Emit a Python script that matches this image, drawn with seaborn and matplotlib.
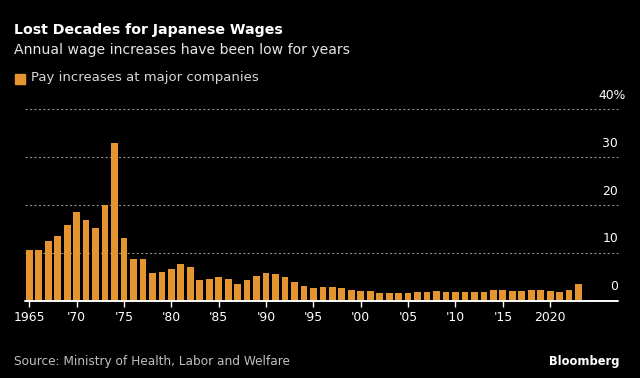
import matplotlib
matplotlib.use("Agg")
import matplotlib.pyplot as plt
import seaborn as sns
import pandas as pd

years = list(range(1965, 2024))
pay_increase = [10.6, 10.6, 12.5, 13.6, 15.8, 18.5, 16.9, 15.3, 20.1, 32.9,
                13.1, 8.8, 8.8, 5.9, 6.0, 6.7, 7.7, 7.0, 4.4, 4.5,
                5.0, 4.6, 3.6, 4.4, 5.2, 5.9, 5.7, 5.0, 3.9, 3.1,
                2.8, 2.9, 2.9, 2.7, 2.2, 2.1, 2.0, 1.7, 1.6, 1.7,
                1.7, 1.8, 1.9, 2.0, 1.8, 1.8, 1.8, 1.8, 1.8, 2.2,
                2.4, 2.1, 2.1, 2.3, 2.2, 2.0, 1.9, 2.2, 3.6]
tick_years = [1965, 1970, 1975, 1980, 1985, 1990, 1995, 2000, 2005, 2010, 2015, 2020]
tick_labels = ["1965", "'70", "'75", "'80", "'85", "'90", "'95", "'00", "'05", "'10", "'15", "2020"]
y_ticks = [0, 10, 20, 30, 40]
y_labels = ["0", "10", "20", "30", "40%"]

title = "Lost Decades for Japanese Wages"
subtitle = "Annual wage increases have been low for years"
legend_label = "Pay increases at major companies"
source = "Source: Ministry of Health, Labor and Welfare"

BAR = "#E5952F"
BG = "#000000"

sns.set_theme(style="dark")
plt.rcParams["font.family"] = ["DejaVu Sans"]

df = pd.DataFrame({"year": years, "value": pay_increase})

fig = plt.figure(figsize=(6.4, 3.78), dpi=100, facecolor=BG)
W, H = 640, 378
ax = fig.add_axes([25 / W, 1 - 301 / H, (618 - 25) / W, (301 - 109.5) / H])
ax.set_facecolor(BG)

sns.barplot(data=df, x="year", y="value", color=BAR, saturation=1,
            width=0.71, ax=ax, zorder=3, edgecolor="none", linewidth=0)

ax.set_xlim(-0.454, 62.16)
ax.set_ylim(0, 40)
for sp in ax.spines.values():
    sp.set_visible(False)
ax.grid(False)

for v in y_ticks[1:]:
    ax.axhline(v, color="#8a8a8a", lw=0.8, ls=(0, (2, 2)), zorder=1, clip_on=False)
ax.axhline(0, color="white", lw=1.4, zorder=4, clip_on=False)

pos = [years.index(y) for y in tick_years]
ax.set_xticks(pos)
ax.set_xticklabels(tick_labels, color="white", fontsize=8.9)
ax.tick_params(axis="x", bottom=True, colors="white", length=4, width=1,
               pad=3, direction="out")
ax.set_yticks([])
ax.set_xlabel("")
ax.set_ylabel("")

trans = ax.get_yaxis_transform()
for v, lab in zip(y_ticks, y_labels):
    xr = 1.0 if not lab.endswith("%") else 1.0 + 8 / (618 - 25)
    ax.text(xr, v + 1.6, lab, transform=trans, ha="right", va="bottom",
            color="white", fontsize=8.9, clip_on=False)

fig.text(14 / W, 1 - 30 / H, title, color="white", fontsize=10.2,
         fontweight="bold", ha="left", va="center")
fig.text(14 / W, 1 - 50 / H, subtitle, color="#e6e6e6", fontsize=10.1,
         ha="left", va="center")
fig.patches.append(plt.Rectangle((15 / W, 1 - 84 / H), 10 / W, 10 / H,
                                 transform=fig.transFigure, color=BAR, figure=fig))
fig.text(31 / W, 1 - 78 / H, legend_label, color="#d9d9d9", fontsize=9.5,
         ha="left", va="center")
fig.text(14 / W, 1 - 362 / H, source, color="#bfbfbf", fontsize=8.7,
         ha="left", va="center")
fig.text(620 / W, 1 - 362 / H, "Bloomberg", color="white", fontsize=8.3,
         fontweight="bold", ha="right", va="center")

fig.savefig("out.png", dpi=100, facecolor=BG)
